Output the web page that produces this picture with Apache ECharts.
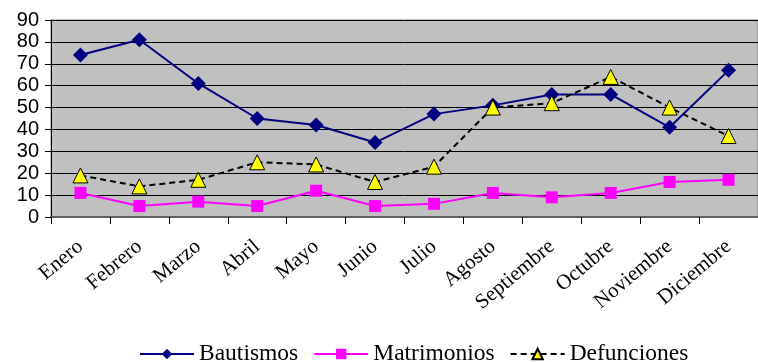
<!DOCTYPE html>
<html>
<head>
<meta charset="utf-8">
<script src="https://cdn.jsdelivr.net/npm/echarts@6/dist/echarts.min.js"></script>
<style>
  html, body { margin: 0; padding: 0; background: #ffffff; }
  #chart { width: 758px; height: 362px; }
</style>
</head>
<body>
<div id="chart"></div>
<script>
// Monthly parish records
const months = ['Enero', 'Febrero', 'Marzo', 'Abril', 'Mayo', 'Junio', 'Julio', 'Agosto', 'Septiembre', 'Octubre', 'Noviembre', 'Diciembre'];
const bautismos = [74, 81, 61, 45, 42, 34, 47, 51, 56, 56, 41, 67];
const matrimonios = [11, 5, 7, 5, 12, 5, 6, 11, 9, 11, 16, 17];
const defunciones = [19, 14, 17, 25, 24, 16, 23, 50, 52, 64, 50, 37];
const yTicks = { min: 0, max: 90, step: 10 };

const chart = echarts.init(document.getElementById('chart'), null, { renderer: 'canvas' });

const serif = '"Liberation Serif", "Times New Roman", serif';
const sans = '"Liberation Sans", Arial, sans-serif';

chart.setOption({
  animation: false,
  backgroundColor: '#ffffff',
  grid: {
    left: 51, top: 20, right: -3, bottom: 145,
    show: true,
    backgroundColor: '#c0c0c0',
    borderColor: '#808080',
    borderWidth: 1
  },
  legend: {
    left: 134,
    top: 337,
    itemWidth: 54,
    itemHeight: 13,
    itemGap: 15,
    textStyle: { fontFamily: serif, fontSize: 23.5, color: '#000' },
    data: ['Bautismos', 'Matrimonios', 'Defunciones']
  },
  xAxis: {
    type: 'category',
    data: months,
    boundaryGap: true,
    axisLine: { show: true, lineStyle: { color: '#606060', width: 2 } },
    axisTick: { show: true, length: 7, lineStyle: { color: '#000', width: 1 } },
    axisLabel: {
      rotate: 40,
      margin: 27,
      fontFamily: serif,
      fontSize: 21,
      color: '#000',
      interval: 0
    },
    splitLine: { show: false }
  },
  yAxis: {
    type: 'value',
    min: yTicks.min,
    max: yTicks.max,
    interval: yTicks.step,
    axisLine: { show: true, lineStyle: { color: '#000', width: 1 } },
    axisTick: { show: true, length: 6, lineStyle: { color: '#000' } },
    axisLabel: { fontFamily: sans, fontSize: 20, color: '#000', margin: 12 },
    splitLine: { show: true, lineStyle: { color: '#000', width: 1 } }
  },
  series: [
    {
      name: 'Bautismos',
      type: 'line',
      data: bautismos,
      symbol: 'diamond',
      symbolSize: 15,
      color: '#000080',
      lineStyle: { color: '#000080', width: 2 },
      itemStyle: { color: '#000080' }
    },
    {
      name: 'Matrimonios',
      type: 'line',
      data: matrimonios,
      symbol: 'rect',
      symbolSize: 12,
      color: '#ff00ff',
      lineStyle: { color: '#ff00ff', width: 2 },
      itemStyle: { color: '#ff00ff' }
    },
    {
      name: 'Defunciones',
      type: 'line',
      data: defunciones,
      symbol: 'triangle',
      symbolSize: 15,
      color: '#ffff00',
      lineStyle: { color: '#000', width: 2, type: [6, 4] },
      itemStyle: { color: '#ffff00', borderColor: '#000', borderWidth: 1 }
    }
  ]
});
</script>
</body>
</html>
